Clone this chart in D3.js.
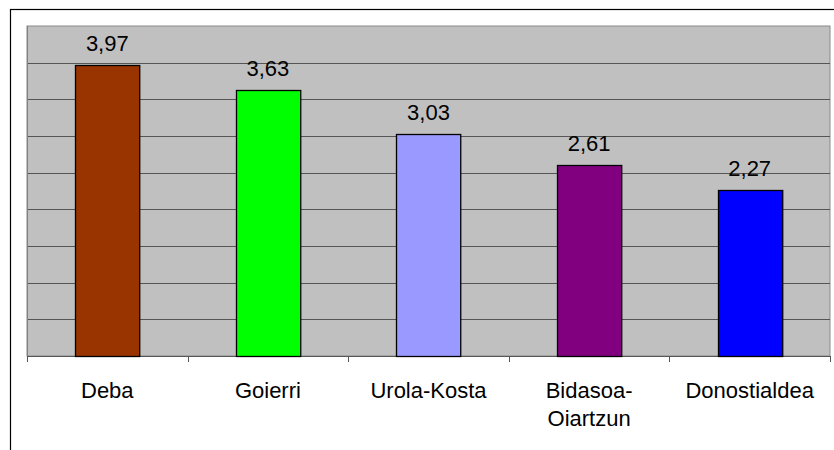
<!DOCTYPE html>
<html><head><meta charset="utf-8">
<script src="https://cdn.jsdelivr.net/npm/d3@7"></script>
<style>html,body{margin:0;padding:0;background:#fff;}svg{display:block;}</style>
</head><body>
<svg id="c" width="834" height="450"></svg>
<script>
const categories = ["Deba", "Goierri", "Urola-Kosta", "Bidasoa-\nOiartzun", "Donostialdea"];
const values = [3.97, 3.63, 3.03, 2.61, 2.27];
const valueLabels = ["3,97", "3,63", "3,03", "2,61", "2,27"];
const colors = ["#993300", "#00FF00", "#9999FF", "#800080", "#0000FF"];
const yTicks = [0, 0.5, 1, 1.5, 2, 2.5, 3, 3.5, 4, 4.5];

const svg = d3.select("#c");
const L = 27, R = 830, T = 26, B = 356;
const font = "'Liberation Sans', Arial, sans-serif";

// outer chart border
svg.append("rect").attr("x", 10.5).attr("y", 9.5).attr("width", 900).attr("height", 600)
  .attr("fill", "#fff").attr("stroke", "#000").attr("stroke-width", 1.2);

const x = d3.scaleBand().domain(categories).range([L, R]).paddingInner(0.6).paddingOuter(0.3);
const y = d3.scaleLinear().domain([0, 4.5]).range([B, T]);

// plot area
svg.append("rect").attr("x", L).attr("y", T).attr("width", R - L).attr("height", B - T)
  .attr("fill", "#C0C0C0").attr("stroke", "#8a8a8a").attr("stroke-width", 1);

// gridlines
svg.append("g").selectAll("line").data(yTicks.filter(d => d > 0 && d < 4.5)).join("line")
  .attr("x1", L).attr("x2", R)
  .attr("y1", d => Math.round(y(d)) + 0.5).attr("y2", d => Math.round(y(d)) + 0.5)
  .attr("stroke", "#555").attr("stroke-width", 1);

// x axis with ticks at band boundaries
const bounds = d3.range(categories.length + 1).map(i => L + i * (R - L) / categories.length);
svg.append("line").attr("x1", L).attr("x2", R).attr("y1", B + 0.5).attr("y2", B + 0.5)
  .attr("stroke", "#555");
svg.append("g").selectAll("line").data(bounds).join("line")
  .attr("x1", d => Math.round(d) + 0.5).attr("x2", d => Math.round(d) + 0.5)
  .attr("y1", B).attr("y2", B + 6).attr("stroke", "#555");
// left axis line
svg.append("line").attr("x1", L + 0.5).attr("x2", L + 0.5).attr("y1", T).attr("y2", B)
  .attr("stroke", "#808080");

// bars
svg.append("g").selectAll("rect").data(values).join("rect")
  .attr("x", (d, i) => Math.round(x(categories[i])) + 0.5)
  .attr("y", d => Math.round(y(d)) + 0.5)
  .attr("width", x.bandwidth())
  .attr("height", d => B - Math.round(y(d)))
  .attr("fill", (d, i) => colors[i])
  .attr("stroke", "#000").attr("stroke-width", 1.3);

// value labels
svg.append("g").selectAll("text").data(values).join("text")
  .attr("x", (d, i) => x(categories[i]) + x.bandwidth() / 2)
  .attr("y", d => y(d) - 14)
  .attr("text-anchor", "middle")
  .attr("font-family", font).attr("font-size", 22).attr("fill", "#000")
  .text((d, i) => valueLabels[i]);

// category labels
const cl = svg.append("g").selectAll("text").data(categories).join("text")
  .attr("x", d => x(d) + x.bandwidth() / 2)
  .attr("y", 398)
  .attr("text-anchor", "middle")
  .attr("font-family", font).attr("font-size", 22).attr("fill", "#000");
cl.each(function(d) {
  const t = d3.select(this);
  d.split("\n").forEach((s, i) => {
    t.append("tspan").attr("x", x(d) + x.bandwidth() / 2).attr("dy", i === 0 ? 0 : 28).text(s);
  });
});
</script>
</body></html>
